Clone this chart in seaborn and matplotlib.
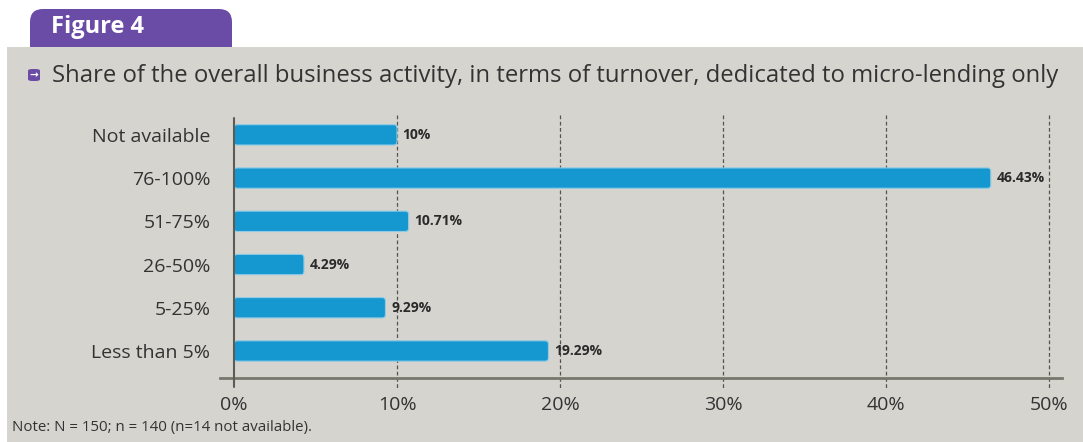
import matplotlib
matplotlib.use("Agg")
import matplotlib.pyplot as plt
from matplotlib.patches import FancyBboxPatch, Rectangle
import seaborn as sns
import pandas as pd

categories = ["Not available", "76-100%", "51-75%", "26-50%", "5-25%", "Less than 5%"]
values = [10.0, 46.43, 10.71, 4.29, 9.29, 19.29]
value_labels = ["10%", "46.43%", "10.71%", "4.29%", "9.29%", "19.29%"]
xticks = [0, 10, 20, 30, 40, 50]
xtick_labels = ["0%", "10%", "20%", "30%", "40%", "50%"]

BG = "#d5d4ce"
BAR = "#1597cf"
PURPLE = "#6a4ca6"
TXT = "#333333"

sns.set_theme(style="white")
plt.rcParams["font.family"] = ["Open Sans", "DejaVu Sans"]

W, H = 1083, 442
fig = plt.figure(figsize=(W / 100, H / 100), dpi=100)
fig.patch.set_facecolor("white")

# grey panel
fig.patches.append(Rectangle((7 / W, 0), 1 - 7 / W, (H - 47) / H, transform=fig.transFigure,
                             facecolor=BG, edgecolor="none", zorder=-5))
# purple tab
fig.patches.append(FancyBboxPatch((30 / W, (H - 47) / H), 202 / W, 38 / H,
                                  boxstyle="round,pad=0,rounding_size=0.012",
                                  transform=fig.transFigure, facecolor=PURPLE,
                                  edgecolor="none", zorder=-4, mutation_aspect=W / H))
fig.patches.append(Rectangle((30 / W, (H - 47) / H), 202 / W, 12 / H, transform=fig.transFigure,
                             facecolor=PURPLE, edgecolor="none", zorder=-4))
fig.text(51 / W, (H - 27) / H, "Figure 4", color="white", fontsize=17, fontweight="bold",
         va="center", ha="left")

# title icon
fig.patches.append(FancyBboxPatch((28 / W, (H - 81) / H), 12 / W, 12 / H,
                                  boxstyle="round,pad=0,rounding_size=0.004",
                                  transform=fig.transFigure, facecolor=PURPLE,
                                  edgecolor="none", zorder=-3))
fig.text(34 / W, (H - 75) / H, "→", color="white", fontsize=7.5, fontweight="bold",
         ha="center", va="center", family=["DejaVu Sans"])
fig.text(52 / W, (H - 76) / H,
         "Share of the overall business activity, in terms of turnover, dedicated to micro-lending only",
         color=TXT, fontsize=17.2, va="center", ha="left")

fig.text(12 / W, (H - 427) / H, "Note: N = 150; n = 140 (n=14 not available).",
         color=TXT, fontsize=10.8, va="center", ha="left")

ax = fig.add_axes([220 / W, (H - 378) / H, 842 / W, 260 / H])
ax.set_facecolor("none")
ax.set_zorder(5)

df = pd.DataFrame({"category": categories, "value": values})
sns.barplot(data=df, x="value", y="category", orient="h", color=BAR, width=0.47,
            saturation=1, ax=ax, order=categories, zorder=3)

# round the bar corners, keeping seaborn's geometry
for p in list(ax.patches):
    x0, y0 = p.get_x(), p.get_y()
    w, h = p.get_width(), p.get_height()
    rp = FancyBboxPatch((x0, y0), w, h, boxstyle="round,pad=0,rounding_size=0.2",
                        mutation_aspect=0.377, facecolor=BAR, edgecolor="#8fcbe6",
                        linewidth=0.8, zorder=3)
    p.set_visible(False)
    ax.add_patch(rp)

ax.set_xlim(-0.86, 50.8)
ax.set_ylim(5.625, -0.39)

for s in ["top", "right", "left"]:
    ax.spines[s].set_visible(False)
ax.spines["bottom"].set_color("#77776d")
ax.spines["bottom"].set_linewidth(2)

# left axis line at 0
ax.plot([0, 0], [-0.39, 5.83], color="#5c5c55", lw=1.5, clip_on=False, zorder=4)
# dashed gridlines
for t in xticks[1:]:
    ax.plot([t, t], [-0.47, 5.86], color="#555550", lw=0.9, ls=(0, (3, 2)),
            clip_on=False, zorder=2)

ax.set_xticks(xticks)
ax.set_xticklabels(xtick_labels, fontsize=14, color=TXT)
ax.tick_params(axis="x", length=0, pad=13)
ax.tick_params(axis="y", length=0, pad=7)
ax.set_yticks(range(len(categories)))
ax.set_yticklabels(categories, fontsize=14, color=TXT)
ax.set_xlabel("")
ax.set_ylabel("")

for i, (v, lab) in enumerate(zip(values, value_labels)):
    ax.text(v + 0.35, i, lab, fontsize=10, fontweight="bold", color="#2a2a2a",
            va="center", ha="left", zorder=5)

fig.savefig("out.png", dpi=100, facecolor=fig.get_facecolor())
